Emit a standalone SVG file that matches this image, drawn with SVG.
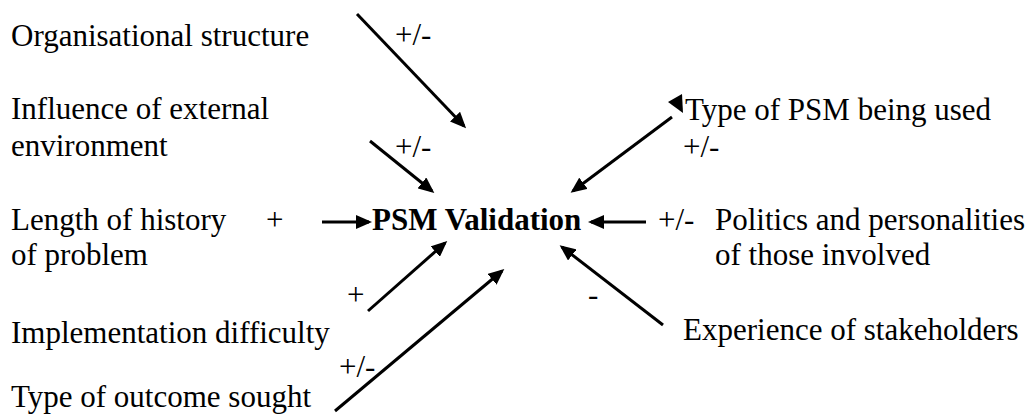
<svg xmlns="http://www.w3.org/2000/svg" width="1032" height="418" viewBox="0 0 1032 418">
  <style>
    text { font-size: 31px; fill: #000; }
    .core { font-weight: bold; }
    .link { stroke: #000; stroke-width: 3; fill: none; marker-end: url(#head); }
    .tip { fill: #000; }
  </style>
  <defs>
    <marker id="head" viewBox="0 0 16 14" refX="13" refY="7" markerWidth="16" markerHeight="14" markerUnits="userSpaceOnUse" orient="auto">
      <path d="M0,0 L16,7 L0,14 z" fill="#000"/>
    </marker>
  </defs>
  <rect width="1032" height="418" fill="#fff"/>

  <g font-family="Liberation Serif, DejaVu Serif, serif">
  <!-- central concept -->
  <g id="psm-validation">
    <text class="core" x="372" y="230">PSM Validation</text>
  </g>

  <!-- influencing factors -->
  <g id="organisational-structure">
    <text x="11" y="46">Organisational structure</text>
  </g>
  <g id="external-environment">
    <text x="11" y="119">Influence of external</text>
    <text x="11" y="156">environment</text>
  </g>
  <g id="history-length">
    <text x="11" y="230">Length of history</text>
    <text x="11" y="265">of problem</text>
  </g>
  <g id="implementation-difficulty">
    <text x="11" y="343">Implementation difficulty</text>
  </g>
  <g id="outcome-type">
    <text x="11" y="407">Type of outcome sought</text>
  </g>
  <g id="psm-type">
    <text x="685" y="120">Type of PSM being used</text>
  </g>
  <g id="politics">
    <text x="715" y="230">Politics and personalities</text>
    <text x="715" y="265">of those involved</text>
  </g>
  <g id="stakeholder-experience">
    <text x="683" y="340">Experience of stakeholders</text>
  </g>

  <!-- connectors with their signs -->
  <g id="connectors">
    <line class="link" x1="357" y1="14" x2="464" y2="126"/>
    <line class="link" x1="370" y1="141" x2="432" y2="191"/>
    <line class="link" x1="672" y1="117" x2="573" y2="191"/>
    <polygon class="tip" points="668,102 682,94 683,113"/>
    <line class="link" x1="322" y1="222" x2="369" y2="222"/>
    <line class="link" x1="646" y1="222" x2="591" y2="222"/>
    <line class="link" x1="368" y1="311" x2="445" y2="243"/>
    <line class="link" x1="335" y1="411" x2="502" y2="271"/>
    <line class="link" x1="663" y1="325" x2="562" y2="247"/>

    <text x="395" y="45">+/-</text>
    <text x="395" y="157">+/-</text>
    <text x="683" y="157">+/-</text>
    <text x="266" y="230">+</text>
    <text x="658" y="230">+/-</text>
    <text x="347" y="305">+</text>
    <text x="588" y="305">-</text>
    <text x="339" y="377">+/-</text>
  </g>
  </g>
</svg>
